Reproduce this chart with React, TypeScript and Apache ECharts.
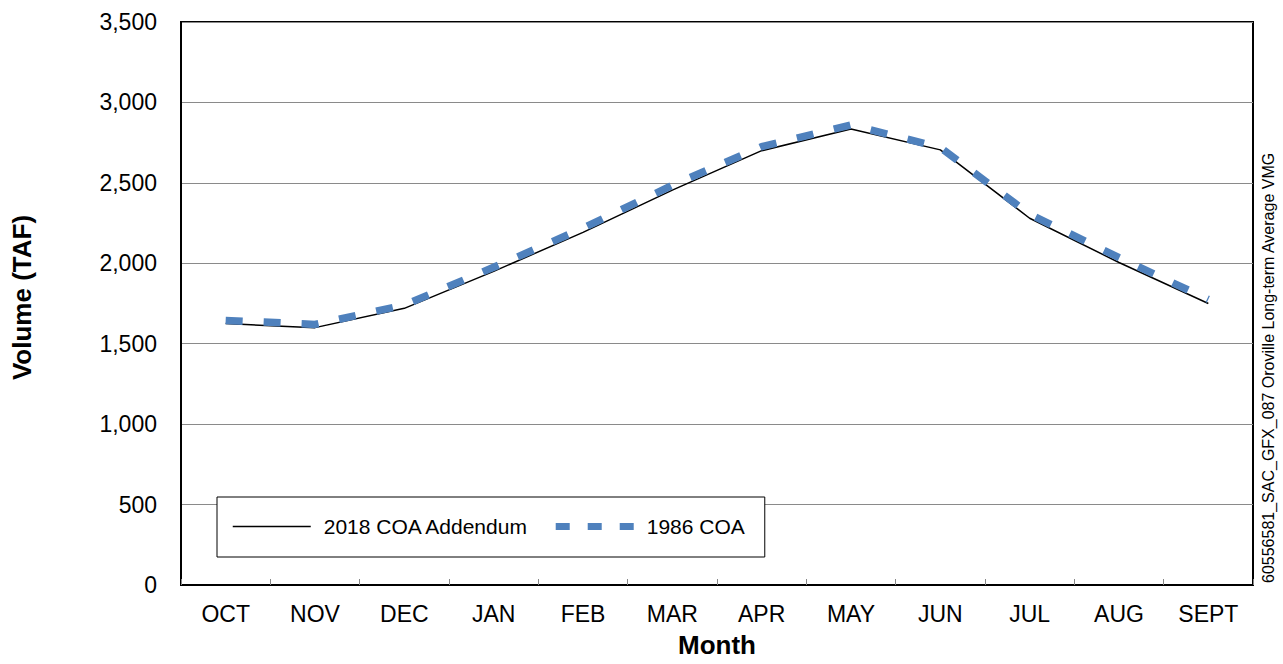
import React, { useEffect, useRef } from "react";
import * as echarts from "echarts";

const months = ["OCT", "NOV", "DEC", "JAN", "FEB", "MAR", "APR", "MAY", "JUN", "JUL", "AUG", "SEPT"];
const coa2018Addendum = [1625, 1600, 1720, 1950, 2192, 2455, 2700, 2835, 2705, 2280, 2005, 1750];
const coa1986 = [1645, 1620, 1740, 1975, 2218, 2485, 2725, 2860, 2720, 2305, 2035, 1775];
const seriesNames = ["2018 COA Addendum", "1986 COA"];
const yTicks = { min: 0, max: 3500, interval: 500 };
const sideNote = "60556581_SAC_GFX_087 Oroville Long-term Average VMG";

const FONT = "'Liberation Sans', Arial, Helvetica, sans-serif";

export default function App() {
  const ref = useRef<HTMLDivElement>(null);
  useEffect(() => {
    document.body.style.margin = "0";
    if (!ref.current) return;
    const chart = echarts.init(ref.current, undefined, { renderer: "svg" });
    chart.setOption({
      animation: false,
      backgroundColor: "#fff",
      textStyle: { fontFamily: FONT, color: "#000" },
      grid: {
        left: 181,
        right: 30,
        top: 22,
        bottom: 79,
        show: true,
        borderColor: "#000",
        borderWidth: 2,
        backgroundColor: "transparent",
      },
      legend: {
        left: 217,
        top: 497,
        orient: "horizontal",
        backgroundColor: "#fff",
        borderColor: "#000",
        borderWidth: 1,
        borderRadius: 0,
        padding: [19, 20, 20, 15],
        itemWidth: 78,
        itemHeight: 7,
        itemGap: 23,
        textStyle: { fontSize: 21, fontFamily: FONT, color: "#000", padding: [0, 0, 0, 8] },
        data: [
          { name: seriesNames[0], lineStyle: { width: 1.5 }, itemStyle: { opacity: 0 } },
          { name: seriesNames[1], lineStyle: { width: 7, type: [14, 18] }, itemStyle: { opacity: 0 } },
        ],
      },
      xAxis: {
        type: "category",
        data: months,
        boundaryGap: true,
        name: "Month",
        nameLocation: "middle",
        nameGap: 47,
        nameTextStyle: { fontSize: 26, fontWeight: "bold", fontFamily: FONT, color: "#000" },
        axisLine: { show: true, lineStyle: { color: "#000", width: 2 } },
        axisTick: { show: true, inside: true, length: 6, interval: 0, lineStyle: { color: "#888" } },
        axisLabel: { fontSize: 23, color: "#000", margin: 17, interval: 0, fontFamily: FONT },
        splitLine: { show: false },
      },
      yAxis: {
        type: "value",
        min: yTicks.min,
        max: yTicks.max,
        interval: yTicks.interval,
        name: "Volume (TAF)",
        nameLocation: "middle",
        nameGap: 146,
        nameTextStyle: {
          fontSize: 26,
          fontWeight: "bold",
          fontFamily: FONT,
          color: "#000",
          padding: [0, 0, 0, 12],
        },
        axisLine: { show: true, lineStyle: { color: "#000", width: 2 } },
        axisTick: { show: false },
        axisLabel: {
          fontSize: 23,
          color: "#000",
          margin: 24,
          fontFamily: FONT,
          formatter: (v: number) => v.toLocaleString("en-US"),
        },
        splitLine: { show: true, lineStyle: { color: "#8a8a8a", width: 1 } },
      },
      series: [
        {
          name: seriesNames[0],
          type: "line",
          data: coa2018Addendum,
          symbol: "none",
          showSymbol: false,
          lineStyle: { color: "#000", width: 1.5 },
          itemStyle: { color: "#000" },
          z: 2,
        },
        {
          name: seriesNames[1],
          type: "line",
          data: coa1986,
          symbol: "none",
          showSymbol: false,
          lineStyle: { color: "#4F81BD", width: 7.5, type: [17, 21], cap: "butt" },
          itemStyle: { color: "#4F81BD" },
          z: 3,
        },
      ],
      graphic: [
        {
          type: "text",
          x: 1268,
          y: 583,
          rotation: Math.PI / 2,
          style: {
            text: sideNote,
            fontSize: 16,
            fontFamily: FONT,
            fill: "#000",
            textAlign: "left",
            textVerticalAlign: "middle",
          },
        },
      ],
    });
    return () => chart.dispose();
  }, []);
  return <div ref={ref} style={{ width: 1283, height: 664 }} />;
}
